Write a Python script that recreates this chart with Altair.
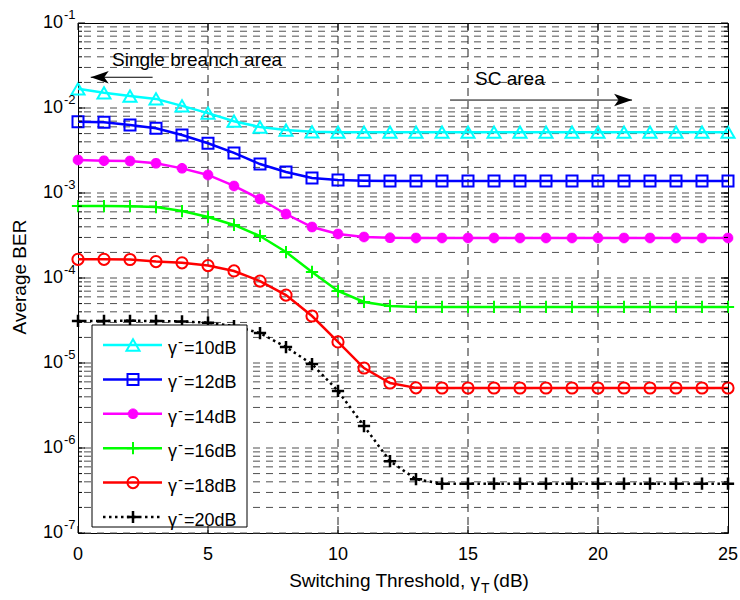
import altair as alt
import pandas as pd

# ---------------- data ----------------
x_vals = list(range(26))
series_names = ["10dB", "12dB", "14dB", "16dB", "18dB", "20dB"]
series_labels = ["=10dB", "=12dB", "=14dB", "=16dB", "=18dB", "=20dB"]

ber_10 = [1.68e-2, 1.51e-2, 1.38e-2, 1.28e-2, 1.06e-2, 8.7e-3, 7.0e-3, 5.97e-3,
          5.5e-3, 5.25e-3, 5.2e-3, 5.2e-3, 5.2e-3, 5.2e-3, 5.2e-3, 5.2e-3,
          5.2e-3, 5.2e-3, 5.2e-3, 5.2e-3, 5.2e-3, 5.2e-3, 5.2e-3, 5.2e-3,
          5.2e-3, 5.2e-3]
ber_12 = [6.9e-3, 6.79e-3, 6.31e-3, 5.77e-3, 4.81e-3, 3.85e-3, 2.96e-3, 2.19e-3,
          1.77e-3, 1.50e-3, 1.42e-3, 1.39e-3, 1.38e-3, 1.38e-3, 1.38e-3, 1.38e-3,
          1.38e-3, 1.38e-3, 1.38e-3, 1.38e-3, 1.38e-3, 1.38e-3, 1.38e-3, 1.38e-3,
          1.38e-3, 1.38e-3]
ber_14 = [2.45e-3, 2.40e-3, 2.38e-3, 2.24e-3, 1.95e-3, 1.63e-3, 1.21e-3, 8.5e-4,
          5.66e-4, 3.98e-4, 3.30e-4, 3.04e-4, 2.97e-4, 2.96e-4, 2.96e-4, 2.96e-4,
          2.96e-4, 2.96e-4, 2.96e-4, 2.96e-4, 2.96e-4, 2.96e-4, 2.96e-4, 2.96e-4,
          2.96e-4, 2.96e-4]
ber_16 = [7.03e-4, 7.02e-4, 7.0e-4, 6.84e-4, 6.14e-4, 5.22e-4, 4.21e-4, 3.12e-4,
          2.02e-4, 1.18e-4, 7.03e-5, 5.22e-5, 4.69e-5, 4.56e-5, 4.56e-5, 4.56e-5,
          4.56e-5, 4.56e-5, 4.56e-5, 4.56e-5, 4.56e-5, 4.56e-5, 4.56e-5, 4.56e-5,
          4.56e-5, 4.56e-5]
ber_18 = [1.66e-4, 1.66e-4, 1.65e-4, 1.56e-4, 1.51e-4, 1.40e-4, 1.21e-4, 9.2e-5,
          6.3e-5, 3.57e-5, 1.77e-5, 8.73e-6, 5.82e-6, 5.1e-6, 5.08e-6, 5.08e-6,
          5.08e-6, 5.08e-6, 5.08e-6, 5.08e-6, 5.08e-6, 5.08e-6, 5.08e-6, 5.08e-6,
          5.08e-6, 5.08e-6]
ber_20 = [3.12e-5, 3.12e-5, 3.14e-5, 3.12e-5, 3.08e-5, 2.98e-5, 2.72e-5, 2.25e-5,
          1.54e-5, 9.7e-6, 4.69e-6, 1.81e-6, 7.0e-7, 4.3e-7, 3.8e-7, 3.8e-7,
          3.8e-7, 3.8e-7, 3.8e-7, 3.8e-7, 3.8e-7, 3.8e-7, 3.8e-7, 3.8e-7,
          3.8e-7, 3.8e-7]
all_ber = [ber_10, ber_12, ber_14, ber_16, ber_18, ber_20]

x_ticks = [0, 5, 10, 15, 20, 25]
decades = [1e-7, 1e-6, 1e-5, 1e-4, 1e-3, 1e-2, 1e-1]
decade_exps = ["-7", "-6", "-5", "-4", "-3", "-2", "-1"]

annot_text = ["Single breanch area", "SC area"]
annot_x = [1.31, 15.27]
annot_y = [3.12e-2, 1.87e-2]
arrow_from_x = [2.87, 14.31]
arrow_to_x = [0.49, 21.31]
arrow_y = [2.30e-2, 1.24e-2]

# ---------------- styling ----------------
FONT = "Liberation Sans"
W, H = 650, 510
colors = ["#00FFFF", "#0000FF", "#FF00FF", "#00FF00", "#FF0000", "#000000"]
PLUS = "M-1,0L1,0M0,-1L0,1"
STAR = "M-1,0L1,0M0,-1L0,1M-0.7,-0.7L0.7,0.7M-0.7,0.7L0.7,-0.7"
marker_styles = [
    dict(shape="triangle-up", size=170, filled=False, strokeWidth=2),
    dict(shape="square", size=121, filled=False, strokeWidth=2),
    dict(shape=STAR, size=110, filled=False, strokeWidth=3.5),
    dict(shape=PLUS, size=150, filled=False, strokeWidth=2),
    dict(shape="circle", size=125, filled=False, strokeWidth=2),
    dict(shape=PLUS, size=150, filled=False, strokeWidth=2.5),
]
line_dashes = [None, None, None, None, None, [2.5, 3.5]]

xs = alt.Scale(domain=[0, 25], nice=False, zero=False)
ys = alt.Scale(type="log", domain=[1e-7, 1e-1], nice=False)
legend_scale = alt.Scale(type="point", domain=series_names, range=[322, 494], padding=0)

rows = []
for name, vals in zip(series_names, all_ber):
    for xv, bv in zip(x_vals, vals):
        rows.append({"s": name, "x": xv, "ber": bv})
df = pd.DataFrame(rows)
leg_df = pd.DataFrame({"s": series_names, "label": series_labels})
one = pd.DataFrame({"a": [0]})

layers = []

# grid
grid_vals = [m * 10.0 ** k for k in range(-7, -1) for m in range(1, 10)]
layers.append(alt.Chart(pd.DataFrame({"v": grid_vals})).mark_rule(
    color="#505050", strokeWidth=1, strokeDash=[7, 6]).encode(
    y=alt.Y("v:Q", scale=ys, axis=None)))
layers.append(alt.Chart(pd.DataFrame({"v": x_ticks[1:-1]})).mark_rule(
    color="#202020", strokeWidth=1, strokeDash=[8, 5]).encode(
    x=alt.X("v:Q", scale=xs, axis=None)))

# series
for name, c, ms, dash in zip(series_names, colors, marker_styles, line_dashes):
    base = alt.Chart(df).transform_filter(alt.datum.s == name)
    enc = dict(x=alt.X("x:Q", scale=xs, axis=None), y=alt.Y("ber:Q", scale=ys, axis=None))
    lkw = dict(color=c, strokeWidth=2.5)
    if dash:
        lkw["strokeDash"] = dash
    layers.append(base.mark_line(**lkw).encode(**enc))
    layers.append(base.mark_point(color=c, opacity=1, **ms).encode(**enc))

# legend box
layers.append(alt.Chart(one).mark_rect(fill="white", stroke="black", strokeWidth=1).encode(
    x=alt.value(14), x2=alt.value(169), y=alt.value(302), y2=alt.value(504)))
for name, c, ms, dash in zip(series_names, colors, marker_styles, line_dashes):
    lb = alt.Chart(leg_df).transform_filter(alt.datum.s == name)
    lkw = dict(color=c, strokeWidth=2.5)
    if dash:
        lkw["strokeDash"] = dash
    layers.append(lb.mark_rule(**lkw).encode(
        x=alt.value(25), x2=alt.value(84), y=alt.Y("s:N", scale=legend_scale, axis=None)))
    layers.append(lb.mark_point(color=c, opacity=1, **ms).encode(
        x=alt.value(55), y=alt.Y("s:N", scale=legend_scale, axis=None)))
leg_y = alt.Y("s:N", scale=legend_scale, axis=None)
layers.append(alt.Chart(leg_df).mark_text(
    align="left", baseline="middle", dy=4, fontSize=18, font=FONT, color="black").encode(
    x=alt.value(90), y=leg_y, text=alt.value("\u03b3")))
layers.append(alt.Chart(leg_df).mark_text(
    align="left", baseline="middle", dy=-3, fontSize=15, font=FONT, color="black").encode(
    x=alt.value(100), y=leg_y, text=alt.value("-")))
layers.append(alt.Chart(leg_df).mark_text(
    align="left", baseline="middle", dy=4, fontSize=18, font=FONT, color="black").encode(
    x=alt.value(106), y=leg_y, text="label:N"))

# annotations
arr = pd.DataFrame({"x1": arrow_from_x, "x2": arrow_to_x, "y": arrow_y})
layers.append(alt.Chart(arr).mark_rule(color="black", strokeWidth=1).encode(
    x=alt.X("x1:Q", scale=xs, axis=None), x2="x2:Q", y=alt.Y("y:Q", scale=ys, axis=None)))
heads = pd.DataFrame({"x": arrow_to_x, "y": arrow_y, "dir": ["l", "r"]})
layers.append(alt.Chart(heads).transform_filter(alt.datum.dir == "l").mark_point(
    shape="M0,0L2,-0.7L1.5,0L2,0.7Z", size=324, filled=True, color="black", opacity=1).encode(
    x=alt.X("x:Q", scale=xs, axis=None), y=alt.Y("y:Q", scale=ys, axis=None)))
layers.append(alt.Chart(heads).transform_filter(alt.datum.dir == "r").mark_point(
    shape="M0,0L-2,-0.7L-1.5,0L-2,0.7Z", size=324, filled=True, color="black", opacity=1).encode(
    x=alt.X("x:Q", scale=xs, axis=None), y=alt.Y("y:Q", scale=ys, axis=None)))
ann = pd.DataFrame({"x": annot_x, "y": annot_y, "t": annot_text})
layers.append(alt.Chart(ann).mark_text(
    align="left", baseline="alphabetic", fontSize=19, font=FONT, color="black").encode(
    x=alt.X("x:Q", scale=xs, axis=None), y=alt.Y("y:Q", scale=ys, axis=None), text="t:N"))

# ticks (inward)
major_df = pd.DataFrame({"v": decades})
minor_df = pd.DataFrame({"v": grid_vals})
for xa, xb in [(0, 7), (W, W - 7)]:
    layers.append(alt.Chart(major_df).mark_rule(color="black", strokeWidth=1).encode(
        y=alt.Y("v:Q", scale=ys, axis=None), x=alt.value(xa), x2=alt.value(xb)))
for xa, xb in [(0, 4), (W, W - 4)]:
    layers.append(alt.Chart(minor_df).mark_rule(color="black", strokeWidth=1).encode(
        y=alt.Y("v:Q", scale=ys, axis=None), x=alt.value(xa), x2=alt.value(xb)))
xt_df = pd.DataFrame({"v": x_ticks, "lab": [str(v) for v in x_ticks]})
for ya, yb in [(H, H - 7), (0, 7)]:
    layers.append(alt.Chart(xt_df).mark_rule(color="black", strokeWidth=1).encode(
        x=alt.X("v:Q", scale=xs, axis=None), y=alt.value(ya), y2=alt.value(yb)))

# tick labels
yl_df = pd.DataFrame({"v": decades, "e": decade_exps})
layers.append(alt.Chart(yl_df).mark_text(
    align="right", baseline="middle", fontSize=18, font=FONT, color="black").encode(
    y=alt.Y("v:Q", scale=ys, axis=None), x=alt.value(-15), text=alt.value("10")))
layers.append(alt.Chart(yl_df).mark_text(
    align="left", baseline="middle", fontSize=13, font=FONT, color="black", dy=-8).encode(
    y=alt.Y("v:Q", scale=ys, axis=None), x=alt.value(-14), text="e:N"))
layers.append(alt.Chart(xt_df).mark_text(
    align="center", baseline="top", fontSize=18, font=FONT, color="black").encode(
    x=alt.X("v:Q", scale=xs, axis=None), y=alt.value(523), text="lab:N"))

# axis titles
layers.append(alt.Chart(one).mark_text(
    align="right", baseline="alphabetic", fontSize=19, font=FONT, color="black").encode(
    x=alt.value(402), y=alt.value(564), text=alt.value("Switching Threshold, \u03b3")))
layers.append(alt.Chart(one).mark_text(
    align="left", baseline="alphabetic", fontSize=14, font=FONT, color="black").encode(
    x=alt.value(403), y=alt.value(570), text=alt.value("T")))
layers.append(alt.Chart(one).mark_text(
    align="left", baseline="alphabetic", fontSize=19, font=FONT, color="black").encode(
    x=alt.value(415), y=alt.value(564), text=alt.value("(dB)")))
layers.append(alt.Chart(one).mark_text(
    align="center", baseline="middle", fontSize=19, font=FONT, color="black", angle=270).encode(
    x=alt.value(-58), y=alt.value(254), text=alt.value("Average BER")))

chart = alt.layer(*layers).resolve_scale(y="independent").properties(
    width=W, height=H,
    padding={"left": 78, "top": 23, "right": 12, "bottom": 67},
    autosize=alt.AutoSizeParams(type="none"),
    background="white",
).configure_view(stroke="black", strokeWidth=1)

chart.save("out.html", embed_options={"renderer": "svg", "actions": False})
